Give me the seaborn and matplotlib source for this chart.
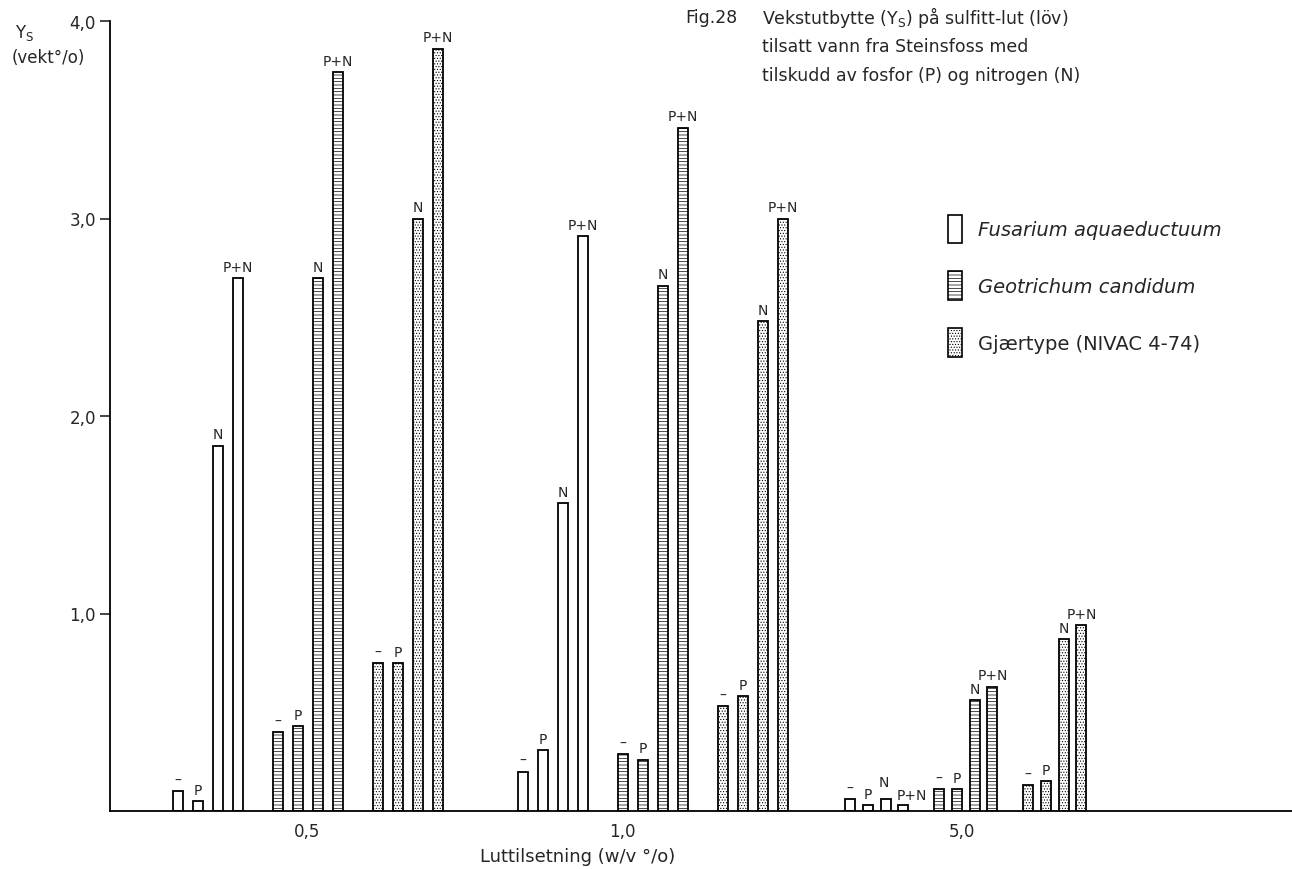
#Imports
import pandas as pd
import seaborn as sns
import matplotlib.pyplot as plt
import matplotlib.patches as mpatches

#Data - Ys (vekt%) per luttilsetning, one list per treatment order (-, P, N, P+N)
concentrations = ["0,5", "1,0", "5,0"]
species = ["Fusarium aquaeductuum", "Geotrichum candidum", "Gjærtype (NIVAC 4-74)"]
treatments = ["–", "P", "N", "P+N"]

fusarium = [[0.10, 0.05, 1.85, 2.70],
            [0.20, 0.31, 1.56, 2.91],
            [0.06, 0.03, 0.06, 0.03]]
geotrichum = [[0.40, 0.43, 2.70, 3.74],
              [0.29, 0.26, 2.66, 3.46],
              [0.11, 0.11, 0.56, 0.63]]
gjaertype = [[0.75, 0.75, 3.00, 3.86],
             [0.53, 0.58, 2.48, 3.00],
             [0.13, 0.15, 0.87, 0.94]]

#Layout (pixel-like x coordinates of the hand drawn figure)
group_start = [178, 523, 850]
group_step = [20, 20, 17.8]
tick_pos = [307, 622, 962]
hatches = ["", "-----", "......"]

rows = []
for ci, conc in enumerate(concentrations):
    for si, (sp, vals) in enumerate(zip(species, [fusarium, geotrichum, gjaertype])):
        for ti, tr in enumerate(treatments):
            pos = group_start[ci] + si * 5 * group_step[ci] + ti * group_step[ci]
            rows.append({"conc": conc, "species": sp, "treatment": tr,
                         "pos": pos, "value": vals[ci][ti]})
df = pd.DataFrame(rows)

#Setup
sns.set_theme(style="white")
plt.rcParams["font.family"] = ["DejaVu Sans"]
plt.rcParams["hatch.linewidth"] = 0.5

fig = plt.figure(figsize=(12.92, 8.70), dpi=100)
ax = fig.add_axes([110 / 1292, 58 / 870, 1182 / 1292, 790 / 870])

sns.barplot(data=df, x="pos", y="value", hue="species", hue_order=species,
            palette={s: "white" for s in species}, native_scale=True, dodge=False,
            width=0.56, errorbar=None, legend=False, ax=ax,
            edgecolor="black", linewidth=1.3)

for container, h in zip(ax.containers, hatches):
    for bar in container:
        bar.set_facecolor("white")
        bar.set_hatch(h)

#treatment labels over bars (small bars at 5,0 are crowded)
for _, r in df.iterrows():
    dx, dy = 0, 3
    if r["conc"] == "5,0" and r["species"] == species[0]:
        if r["treatment"] == "N":
            dx, dy = -1, 7
        elif r["treatment"] == "P+N":
            dx, dy = 6, 2
    ax.annotate(r["treatment"], (r["pos"], r["value"]), xytext=(dx, dy),
                textcoords="offset points", ha="center", va="bottom", fontsize=10)

#Axes
ax.set_xlim(110, 1292)
ax.set_ylim(0, 4)
ax.set_yticks([1, 2, 3, 4])
ax.set_yticklabels(["1,0", "2,0", "3,0", "4,0"])
ax.set_xticks(tick_pos)
ax.set_xticklabels(concentrations)
ax.tick_params(axis="y", direction="out", length=7, width=1.2, labelsize=12, pad=3, left=True)
ax.tick_params(axis="x", length=0, labelsize=12, pad=8)
ax.set_xlabel("Luttilsetning (w/v °/o)", fontsize=13)
ax.xaxis.set_label_coords((578 - 110) / 1182, -0.045)
ax.set_ylabel("")
sns.despine(ax=ax)
for s in ["left", "bottom"]:
    ax.spines[s].set_color("black")
    ax.spines[s].set_linewidth(1.3)

fig.text(15 / 1292, 1 - 33 / 870, "Y$_\\mathrm{S}$", fontsize=12, va="center")
fig.text(12 / 1292, 1 - 58 / 870, "(vekt°/o)", fontsize=12, va="center")

#Title
fig.text(685 / 1292, 1 - 18 / 870, "Fig.28", fontsize=12.5, va="center")
title_lines = ["Vekstutbytte (Y$_\\mathrm{S}$) på sulfitt-lut (löv)",
               "tilsatt vann fra Steinsfoss med",
               "tilskudd av fosfor (P) og nitrogen (N)"]
for i, line in enumerate(title_lines):
    fig.text(762 / 1292, 1 - (18 + 29 * i) / 870, line, fontsize=12.5, va="center")

#Legend
handles = [mpatches.Patch(facecolor="white", edgecolor="black", hatch=h, linewidth=1.2)
           for h in hatches]
leg = fig.legend(handles, species, loc="upper left", bbox_to_anchor=(930 / 1292, 1 - 198 / 870),
                 frameon=False, handlelength=0.75, handleheight=1.9, labelspacing=1.45,
                 handletextpad=0.8, fontsize=14)
for t in leg.get_texts()[:2]:
    t.set_style("italic")

plt.savefig("out.png", dpi=100)
